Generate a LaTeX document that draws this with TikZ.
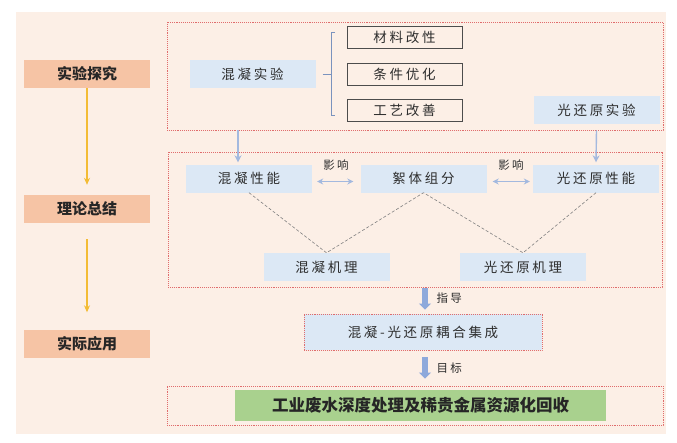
\documentclass[tikz,border=0pt]{standalone}
\usepackage{fontspec}
\setmainfont{Noto Sans CJK SC}
\newfontfamily\itemfont[LetterSpace=20]{Noto Sans CJK SC}
\usepackage{xcolor}
\usetikzlibrary{positioning, arrows.meta}
\definecolor{bgfill}{HTML}{FCEFE6}
\definecolor{stagefill}{HTML}{F6C4A5}
\definecolor{itemfill}{HTML}{DCE8F5}
\definecolor{goalfill}{HTML}{A9D18E}
\definecolor{redline}{HTML}{E06C6C}
\definecolor{yellowline}{HTML}{F3BC35}
\definecolor{bluearrow}{HTML}{A3B9DF}
\definecolor{bigarrow}{HTML}{8EA9DB}
\definecolor{braceline}{HTML}{7A93BE}
\definecolor{textdark}{HTML}{2E2E2E}

\begin{document}
\begin{tikzpicture}[x=1pt,y=-1pt,
    stage/.style={fill=stagefill, minimum width=126pt, minimum height=28pt, inner sep=0pt,
        text=black!85, font=\fontsize{15}{15}\bfseries\selectfont},
    item/.style={fill=itemfill, minimum width=126pt, minimum height=28pt, inner sep=0pt,
        text=textdark, font=\fontsize{13.5}{13.5}\itemfont},
    subitem/.style={draw=black!70, line width=0.8pt, minimum width=115pt, minimum height=22pt,
        inner sep=0pt, text=textdark, font=\fontsize{13.5}{13.5}\itemfont},
    group/.style={draw=redline, densely dotted, line width=0.9pt, inner sep=0pt},
    stagearrow/.style={yellowline, line width=1.4pt, -{Stealth[length=7pt,width=6pt]}},
    thinarrow/.style={bluearrow, line width=1.4pt, -{Stealth[length=7pt,width=7pt]}},
    influence/.style={bluearrow, line width=1.2pt, {Stealth[length=6pt,width=6pt]}-{Stealth[length=6pt,width=6pt]}},
    bigflow/.style={bigarrow, line width=6pt, -{Triangle[length=6pt,width=12pt]}},
    mechline/.style={black!50, densely dashed, line width=0.6pt},
    flowlabel/.style={text=textdark, font=\fontsize{11.5}{11.5}\itemfont},
]
    % fondo
    \useasboundingbox (0,0) rectangle (677,442);
    \fill[bgfill] (16,12) rectangle (666,434);

    % etapas de la izquierda
    \node[stage] (explore) at (87,74) {实验探究};
    \node[stage] (theory) at (87,209) {理论总结};
    \node[stage] (apply) at (87,343.5) {实际应用};
    \draw[stagearrow] (explore.south) -- ([yshift=10pt]theory.north);
    \draw[stagearrow] ([yshift=-16pt]theory.south) -- ([yshift=17pt]apply.north);

    % bloque de experimentos
    \node[group, minimum width=496pt, minimum height=108pt] (expbox) at (415,76) {};
    \node[item] (mixexp) at (252.5,74) {混凝实验};
    \node[subitem] (material) at (404.5,37) {材料改性};
    \node[subitem] (condition) at (404.5,74) {条件优化};
    \node[subitem] (process) at (404.5,110.5) {工艺改善};
    \node[item] (photoexp) at (596.5,110) {光还原实验};
    % llave
    \draw[braceline, line width=1pt] ([xshift=7pt]mixexp.east) -- (331,74);
    \draw[braceline, line width=1pt] (335,32) -- (331,32) -- (331,115) -- (335,115);

    % bloque teórico
    \node[group, minimum width=494pt, minimum height=135pt] (theorybox) at (415,219.5) {};
    \node[item] (mixperf) at (249,178.5) {混凝性能};
    \node[item] (floc) at (423.5,178.5) {絮体组分};
    \node[item] (photoperf) at (596,178.5) {光还原性能};
    \node[item] (mixmech) at (326.5,267) {混凝机理};
    \node[item] (photomech) at (523,267) {光还原机理};
    \draw[thinarrow] ([xshift=-11pt]mixperf.north |- expbox.south) -- ([xshift=-11pt,yshift=2pt]mixperf.north);
    \draw[thinarrow] (photoexp.south |- expbox.south) -- ([yshift=2pt]photoperf.north);
    \draw[influence] ([xshift=5pt,yshift=-3pt]mixperf.east) -- ([xshift=-7pt,yshift=-3pt]floc.west);
    \draw[influence] ([xshift=6pt,yshift=-3pt]floc.east) -- ([xshift=-3pt,yshift=-3pt]photoperf.west);
    \node[flowlabel] (inf1) at (336,165) {影响};
    \node[flowlabel] (inf2) at (511,165) {影响};
    \draw[mechline] (mixperf.south) -- (mixmech.north) -- (floc.south) -- (photomech.north) -- (photoperf.south);

    % aplicación
    \node[group, fill=itemfill, minimum width=238pt, minimum height=36pt,
        text=textdark, font=\fontsize{13.5}{13.5}\itemfont] (couple) at (423,332) {混凝-光还原耦合集成};
    \draw[bigflow] ([xshift=2pt,yshift=-1pt]couple.north |- theorybox.south) -- ([xshift=2pt,yshift=4pt]couple.north);
    \node[flowlabel, right] (guide) at (433,298) {指导};
    \node[group, minimum width=496pt, minimum height=39pt] (goalbox) at (415,405.5) {};
    \node[fill=goalfill, minimum width=371pt, minimum height=31pt, inner sep=0pt,
        text=black!85, font=\fontsize{16.5}{16.5}\bfseries\selectfont] (goal) at (420.5,405.5) {工业废水深度处理及稀贵金属资源化回收};
    \draw[bigflow] ([xshift=2pt,yshift=-7pt]couple.south) -- ([xshift=10pt,yshift=7pt]goalbox.north);
    \node[flowlabel, right] (target) at (433,368) {目标};
\end{tikzpicture}
\end{document}
